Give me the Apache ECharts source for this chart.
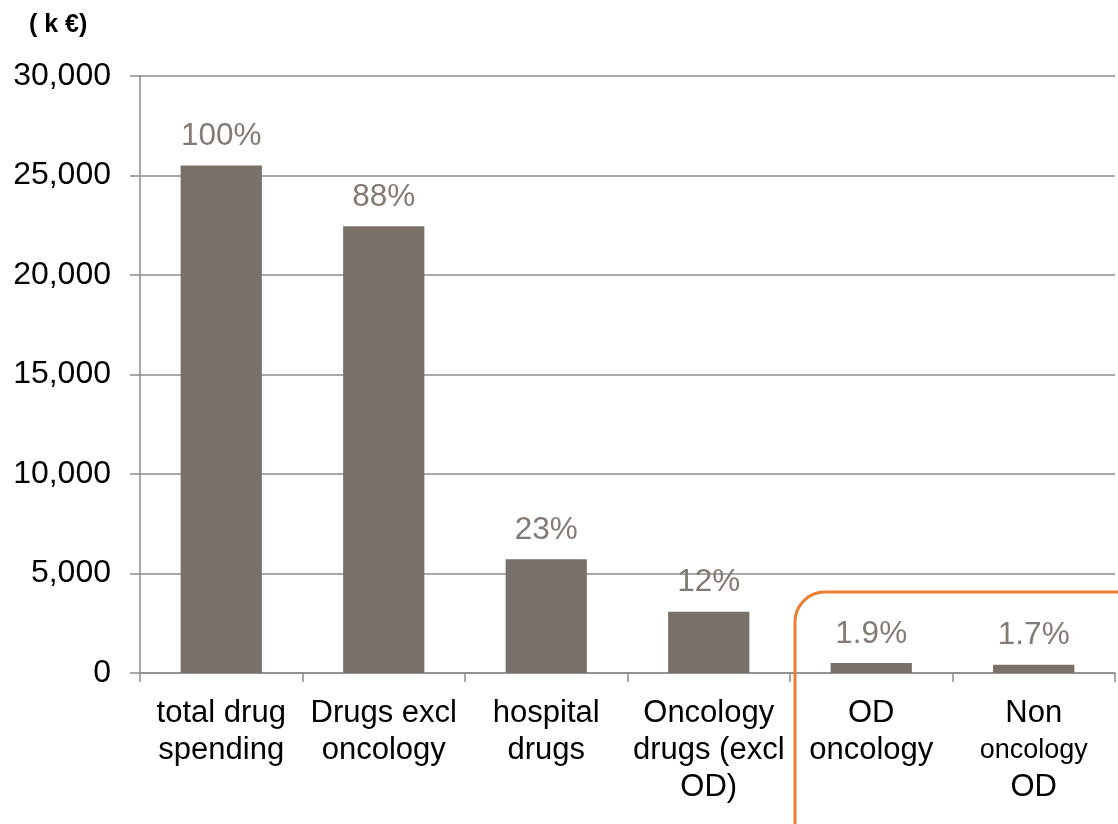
<!DOCTYPE html>
<html>
<head>
<meta charset="utf-8">
<script src="https://cdn.jsdelivr.net/npm/echarts@6/dist/echarts.min.js"></script>
<style>
html,body{margin:0;padding:0;background:#fff;}
#c{width:1118px;height:824px;}
</style>
</head>
<body>
<div id="c"></div>
<script>
const categories = ['total drug\nspending', 'Drugs excl\noncology', 'hospital\ndrugs', 'Oncology\ndrugs (excl\nOD)', 'OD\noncology', 'Non\n{s|oncology}\nOD'];
const values = [25500, 22450, 5720, 3080, 500, 420];
const pctLabels = ['100%', '88%', '23%', '12%', '1.9%', '1.7%'];
const yTicks = [0, 5000, 10000, 15000, 20000, 25000, 30000];
const unitLabel = '( k €)';

const FONT = '"Liberation Sans", Arial, sans-serif';
const chart = echarts.init(document.getElementById('c'), null, {renderer: 'canvas'});
chart.setOption({
  animation: false,
  backgroundColor: '#ffffff',
  textStyle: {fontFamily: FONT},
  grid: {left: 140, right: 3, top: 76, bottom: 151, containLabel: false},
  graphic: [
    {type: 'text', left: 29, top: 13, style: {text: unitLabel, font: 'bold 25px ' + FONT, fill: '#000'}},
    {type: 'rect', z: 100, shape: {x: 795, y: 592, width: 400, height: 300, r: 30},
     style: {fill: 'none', stroke: '#ED7D31', lineWidth: 3}}
  ],
  xAxis: {
    type: 'category',
    data: categories,
    axisLine: {show: true, lineStyle: {color: '#8c8c8c', width: 1.5}},
    axisTick: {show: true, length: 9, lineStyle: {color: '#8c8c8c', width: 1.5}},
    axisLabel: {
      color: '#000', fontSize: 31, fontFamily: FONT, lineHeight: 37, margin: 22, interval: 0,
      rich: {s: {fontSize: 27, lineHeight: 37, fontFamily: FONT, color: '#000'}}
    }
  },
  yAxis: {
    type: 'value', min: yTicks[0], max: yTicks[yTicks.length - 1], interval: 5000,
    axisLine: {show: true, lineStyle: {color: '#8c8c8c', width: 1.5}},
    axisTick: {show: true, length: 10, lineStyle: {color: '#8c8c8c', width: 1.5}},
    splitLine: {show: true, lineStyle: {color: '#8c8c8c', width: 1.5}},
    axisLabel: {
      color: '#000', fontSize: 32, fontFamily: FONT, margin: 29,
      formatter: v => v.toLocaleString('en-US')
    }
  },
  series: [{
    type: 'bar',
    data: values,
    barWidth: '50%',
    itemStyle: {color: '#7a706a'},
    label: {
      show: true, position: 'top', distance: 13,
      color: '#847a75', fontSize: 31.5, fontFamily: FONT,
      formatter: p => pctLabels[p.dataIndex]
    }
  }]
});
</script>
</body>
</html>
